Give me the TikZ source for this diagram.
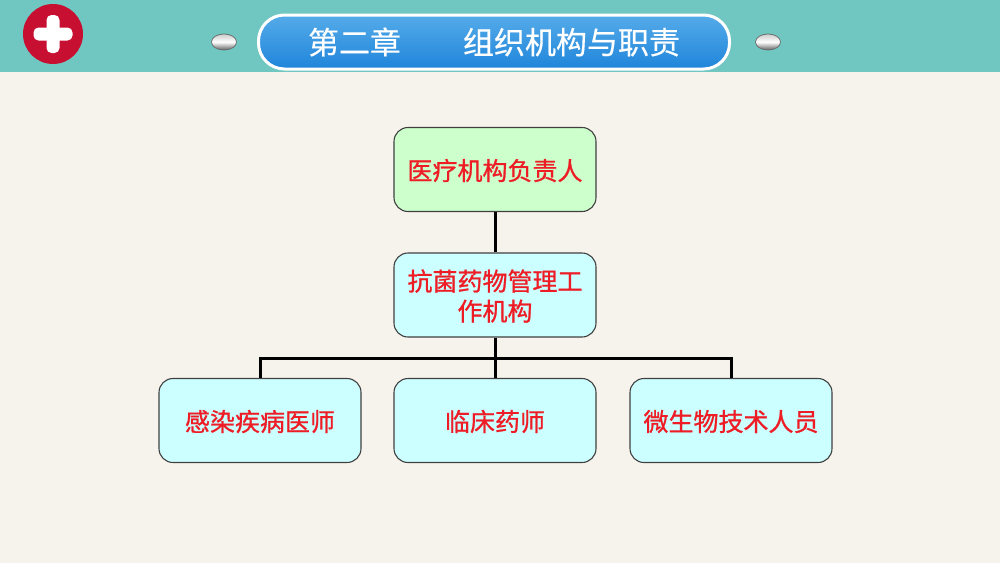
\documentclass[tikz,border=0pt]{standalone}
\usepackage{fontspec}
\setmainfont{Noto Sans CJK SC}
\newfontfamily\orgfont[FakeBold=0.9]{Noto Sans CJK SC}
\newfontfamily\titlefont[FakeBold=0.4]{Noto Sans CJK SC}
\usetikzlibrary{shapes.geometric}
\definecolor{pagebg}{HTML}{F6F3EC}
\definecolor{headbg}{HTML}{70C6C1}
\definecolor{badge}{HTML}{C70F32}
\definecolor{green1}{HTML}{CCFFCC}
\definecolor{cyan1}{HTML}{CCFFFF}
\definecolor{redtext}{HTML}{EE1C25}
\definecolor{pilltop}{HTML}{55ABE9}
\definecolor{pillbot}{HTML}{1F85DA}
\newcommand\orgtext[1]{\raisebox{-4.5pt}[\height][\depth]{\begin{tabular}{@{}c@{}}#1\end{tabular}}}
\tikzset{
  orgbox/.style={draw=black!75,line width=1.1pt,rounded corners=14pt,minimum width=202pt,minimum height=84pt,
    inner sep=0pt,text=redtext,font=\orgfont\fontsize{25}{30}\selectfont,anchor=center},
  link/.style={draw=black,line width=3pt,line cap=butt},
  pearl/.style={ellipse,minimum width=25pt,minimum height=16pt,inner sep=0pt,draw=black!60,line width=0.7pt,
    top color=black!20,bottom color=black!62,middle color=white},
}
\begin{document}
\begin{tikzpicture}[x=1pt,y=-1pt]
\useasboundingbox (0,0) rectangle (1000,563);
\fill[pagebg] (0,0) rectangle (1000,563);
\fill[headbg] (0,0) rectangle (1000,71.5);
\node[circle,fill=badge,minimum size=60pt,inner sep=0pt] (badge) at (53,34) {};
\fill[white,rounded corners=5pt] (46.5,15) rectangle (59.5,53);
\fill[white,rounded corners=5pt] (33.5,27.5) rectangle (72.5,40.5);
\node[pearl] (pl) at (224,42) {};
\node[pearl] (pr) at (768,42) {};
\node[draw=white,line width=3pt,rounded corners=26pt,minimum width=471pt,minimum height=54pt,inner sep=0pt,
  top color=pilltop,bottom color=pillbot,text=white,font=\titlefont\fontsize{31}{36}\selectfont] (title) at (494,42)
  {第二章　　组织机构与职责};
\node[orgbox,fill=green1] (head) at (495,169.5) {\orgtext{医疗机构负责人}};
\node[orgbox,fill=cyan1] (office) at (495,295) {\orgtext{抗菌药物管理工\\作机构}};
\node[orgbox,fill=cyan1] (doc) at (260,420.5) {\orgtext{感染疾病医师}};
\node[orgbox,fill=cyan1] (pharm) at (495,420.5) {\orgtext{临床药师}};
\node[orgbox,fill=cyan1] (micro) at (731,420.5) {\orgtext{微生物技术人员}};
\coordinate (bus) at (495,358);
\draw[link] (head.south) -- (office.north);
\draw[link] (office.south) -- (pharm.north);
\draw[link] (doc.north) |- (bus) -| (micro.north);
\end{tikzpicture}
\end{document}
